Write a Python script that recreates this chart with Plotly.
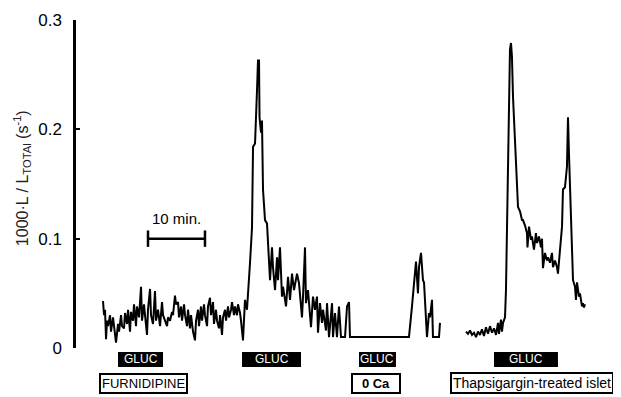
import plotly.graph_objects as go

# ---- data: time (min) and photon emission rate (1000*L/Ltotal, s^-1) ----
t_seg1 = [0.00, 0.18, 0.35, 0.53, 0.70, 0.88, 1.23, 1.40, 1.75, 2.11, 2.28, 2.63, 2.81, 3.16, 3.33,
          3.68, 3.86, 4.21, 4.39, 4.74, 4.91, 5.26, 5.44, 5.79, 5.96, 6.32, 6.67, 6.84, 7.19, 7.37,
          7.72, 7.89, 8.25, 8.42, 8.77, 9.12, 9.30, 9.65, 10.00, 10.35, 10.53, 10.88, 11.23, 11.40,
          11.75, 12.11, 12.28, 12.63, 12.81, 13.16, 13.33, 13.68, 13.86, 14.21, 14.39, 14.74, 14.91,
          15.26, 15.44, 15.79, 16.14, 16.32, 16.67, 16.84, 17.19, 17.37, 17.72, 17.89, 18.25, 18.42,
          18.77, 18.95, 19.30, 19.47, 19.82, 20.00, 20.35, 20.53, 20.88, 21.05, 21.40, 21.58, 21.93,
          22.11, 22.46, 22.63, 22.98, 23.16, 23.51, 23.68, 24.04, 24.21, 24.56, 24.91, 25.26, 25.79,
          26.14, 26.32, 26.67, 27.02, 27.19, 27.37, 27.46, 27.72, 27.89, 28.07, 28.42, 28.77, 28.95,
          29.30, 29.65, 29.82, 30.18, 30.53, 30.70, 31.05, 31.40, 31.58, 32.11, 32.46, 32.81, 33.16,
          33.51, 34.04, 34.39, 34.91, 35.09, 35.44, 35.61, 35.96, 36.49, 36.84, 37.19, 37.54, 37.72,
          38.07, 38.42, 38.60, 39.12, 39.30, 39.65, 40.18, 40.35, 40.70, 41.05, 41.40, 41.75, 42.11,
          42.46, 42.81, 43.16, 43.33, 53.68, 54.21, 54.39, 54.91, 55.26, 55.44, 55.79, 56.14, 56.32,
          56.49, 56.84, 57.19, 57.37, 57.72, 57.89, 58.95, 59.12]
v_seg1 = [0.043, 0.030, 0.035, 0.008, 0.025, 0.020, 0.030, 0.015, 0.028, 0.010, 0.005, 0.022, 0.015, 0.030, 0.020,
          0.018, 0.032, 0.022, 0.035, 0.015, 0.033, 0.025, 0.040, 0.020, 0.038, 0.028, 0.056, 0.025, 0.040, 0.030,
          0.012, 0.035, 0.054, 0.030, 0.022, 0.052, 0.025, 0.035, 0.020, 0.042, 0.030, 0.025, 0.020, 0.028,
          0.025, 0.033, 0.030, 0.048, 0.040, 0.042, 0.028, 0.038, 0.025, 0.040, 0.030, 0.020, 0.035,
          0.018, 0.030, 0.015, 0.007, 0.025, 0.035, 0.020, 0.038, 0.025, 0.040, 0.030, 0.020, 0.038,
          0.046, 0.030, 0.042, 0.022, 0.035, 0.025, 0.018, 0.030, 0.012, 0.028, 0.035, 0.025, 0.038,
          0.028, 0.035, 0.042, 0.030, 0.038, 0.030, 0.040, 0.032, 0.025, 0.007, 0.044, 0.035, 0.078,
          0.110, 0.184, 0.187, 0.236, 0.263, 0.263, 0.211, 0.197, 0.208, 0.145, 0.117, 0.114, 0.096,
          0.062, 0.092, 0.074, 0.053, 0.083, 0.062, 0.092, 0.047, 0.056, 0.038, 0.065, 0.044, 0.068,
          0.053, 0.068, 0.059, 0.028, 0.047, 0.092, 0.041, 0.053, 0.019, 0.047, 0.035, 0.047, 0.014,
          0.041, 0.023, 0.035, 0.016, 0.041, 0.010, 0.041, 0.010, 0.032, 0.010, 0.038, 0.010, 0.010,
          0.010, 0.038, 0.042, 0.010, 0.010, 0.038, 0.047, 0.079, 0.050, 0.074, 0.087, 0.062, 0.060,
          0.044, 0.010, 0.032, 0.028, 0.044, 0.010, 0.010, 0.023]

t_seg2 = [63.68, 64.04, 64.39, 64.74, 65.09, 65.44, 65.79, 66.14, 66.49, 66.84, 67.19, 67.54, 67.89,
          68.25, 68.60, 68.95, 69.30, 69.47, 69.82, 70.00, 70.18, 70.53, 70.70, 70.88, 71.23, 71.40,
          71.58, 71.75, 71.93, 72.28, 72.63, 72.81, 73.16, 73.51, 73.68, 74.04, 74.39, 74.47, 74.74,
          75.09, 75.26, 75.61, 75.96, 76.14, 76.49, 76.84, 77.02, 77.19, 77.54, 77.89, 78.07, 78.42,
          78.77, 78.95, 79.30, 79.65, 79.82, 80.18, 80.53, 80.70, 81.05, 81.40, 81.58, 81.75, 81.93,
          82.11, 82.28, 82.46, 82.81, 82.98, 83.16, 83.51, 83.68, 84.04, 84.21, 84.39, 84.56]
v_seg2 = [0.015, 0.013, 0.016, 0.012, 0.014, 0.010, 0.015, 0.012, 0.017, 0.011, 0.019, 0.013, 0.020,
          0.014, 0.018, 0.012, 0.023, 0.013, 0.026, 0.015, 0.023, 0.028, 0.053, 0.108, 0.184, 0.273,
          0.279, 0.266, 0.230, 0.190, 0.156, 0.129, 0.125, 0.117, 0.117, 0.112, 0.105, 0.092, 0.111,
          0.099, 0.102, 0.090, 0.105, 0.096, 0.102, 0.092, 0.100, 0.073, 0.087, 0.080, 0.083, 0.078,
          0.087, 0.074, 0.080, 0.074, 0.068, 0.092, 0.111, 0.145, 0.147, 0.166, 0.211, 0.178, 0.147,
          0.129, 0.099, 0.062, 0.056, 0.044, 0.060, 0.047, 0.050, 0.038, 0.041, 0.037, 0.040]

# glucose stimulation periods (min)
gluc_start = [2.63, 24.39, 44.91, 68.60]
gluc_end = [10.53, 34.74, 51.40, 79.82]

# condition labels and their centre times (min)
cond_labels = ["FURNIDIPINE", "<b>0 Ca</b>", "Thapsigargin-treated islet"]
cond_centres = [7.02, 47.89, 75.26]
cond_sizes = [13, 13, 14]
cond_widths = [None, 44, None]

# 10-minute scale bar
scale_start = 7.89
scale_len = 10
scale_level = 0.1

y_ticks = [0, 0.1, 0.2, 0.3]
y_ticklabels = ["0", "0.1", "0.2", "0.3"]

FONT = "Liberation Sans, Arial, sans-serif"

fig = go.Figure()
for tt, vv in [(t_seg1, v_seg1), (t_seg2, v_seg2)]:
    fig.add_trace(go.Scatter(x=tt, y=vv, mode="lines",
                             line=dict(color="black", width=2), showlegend=False,
                             hoverinfo="skip"))

# scale bar
fig.add_shape(type="line", xref="x", yref="y", x0=scale_start, x1=scale_start + scale_len,
              y0=scale_level, y1=scale_level, line=dict(color="black", width=2.5))
for xx in [scale_start, scale_start + scale_len]:
    fig.add_shape(type="line", xref="x", yref="y", x0=xx, x1=xx,
                  y0=scale_level - 0.0075, y1=scale_level + 0.0075,
                  line=dict(color="black", width=2.5))
fig.add_annotation(x=scale_start + scale_len / 2, y=scale_level + 0.009, xref="x", yref="y",
                   text="10 min.", showarrow=False, yanchor="bottom",
                   font=dict(family=FONT, size=15, color="black"))

# GLUC bars
for s, e in zip(gluc_start, gluc_end):
    fig.add_shape(type="rect", xref="x", yref="paper", x0=s, x1=e, y0=-0.058, y1=-0.012,
                  fillcolor="black", line=dict(width=0))
    fig.add_annotation(x=(s + e) / 2, y=-0.035, xref="x", yref="paper", text="GLUC",
                       showarrow=False, font=dict(family=FONT, size=12, color="white"),
                       xanchor="center", yanchor="middle")

# condition labels
for lab, c, fs, w in zip(cond_labels, cond_centres, cond_sizes, cond_widths):
    kw = {} if w is None else {"width": w}
    fig.add_annotation(x=c, y=-0.107, xref="x", yref="paper", text=lab, showarrow=False,
                       xanchor="center", yanchor="middle", bgcolor="white",
                       bordercolor="black", borderwidth=2,
                       borderpad=1, font=dict(family=FONT, size=fs, color="black"), **kw)

# y-axis title
fig.add_annotation(x=-0.099, y=0.518, xref="paper", yref="paper",
                   xanchor="center", yanchor="middle",
                   text="1000·L / L<sub>TOTAl</sub> (s<sup>-1</sup>)", showarrow=False,
                   textangle=-90, font=dict(family=FONT, size=16, color="#222"))

# the page body adds an 8px offset, so the figure is 8px smaller and shifted
fig.update_layout(
    width=613, height=389,
    margin=dict(l=68, r=0, t=12, b=49),
    plot_bgcolor="white", paper_bgcolor="white",
    xaxis=dict(range=[-4.74, 90.88], visible=False),
    yaxis=dict(range=[0, 0.3], tickvals=y_ticks, ticktext=y_ticklabels,
               showline=True, linecolor="black", linewidth=2.5,
               ticks="inside", ticklen=4, tickwidth=2, tickcolor="black",
               showgrid=False, zeroline=False, ticklabelstandoff=8,
               tickfont=dict(family=FONT, size=17, color="black")),
)

fig.write_html("out.html")
